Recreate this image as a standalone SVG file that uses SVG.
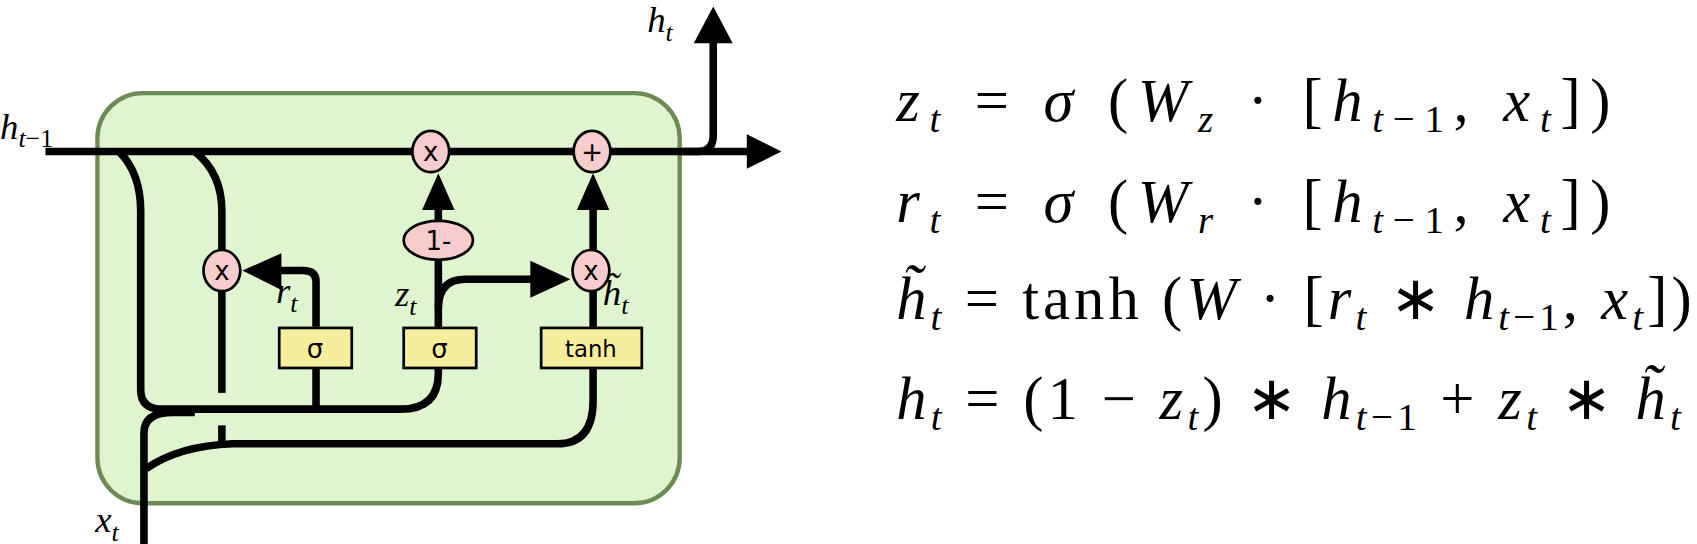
<svg xmlns="http://www.w3.org/2000/svg" width="1697" height="544" viewBox="0 0 1697 544">
<style>
.w{fill:none;stroke:#000;stroke-width:7;stroke-linejoin:round}
.op{fill:#f6cccc;stroke:#000;stroke-width:2.5}
.g{fill:#f5ee9c;stroke:#000;stroke-width:2.5}
.ot{font-family:"DejaVu Sans",sans-serif;font-size:24px;text-anchor:middle}
.m{font-family:"Liberation Serif",serif;font-style:italic;font-size:34px}
.eq{font-family:"Liberation Serif",serif;font-size:56px}
.i{font-style:italic}
.s{font-size:36px}
</style>
<rect x="0" y="0" width="1697" height="544" fill="#fff"/>
<g transform="scale(1.0823)">
<rect id="cell" x="90" y="86" width="538" height="379" rx="42" fill="#dff5cf" stroke="#6b8a54" stroke-width="4"/>
<g id="connectors">
<path class="w" d="M42 140H692"/>
<polygon points="722,140 690,124 690,156"/>
<path class="w" d="M630 140H645Q659 140 659 125V38"/>
<polygon points="659,6 641,40 677,40"/>
<path class="w" d="M110 140Q130 160 130 195V360Q130 378 150 378H370Q405 378 405 345V340"/>
<path class="w" d="M292 340V376"/>
<path class="w" d="M180 140Q205 160 205 195V232"/>
<path class="w" d="M205 268V363"/>
<path class="w" d="M205 393V410"/>
<path class="w" d="M135 433Q165 412 215 410H515Q548 410 548 370V340"/>
<path class="w" d="M133 503V400Q133 381 160 381H180"/>
<path class="w" d="M292 302V260Q292 250 280 250H256"/>
<polygon points="224,250 260,234 260,268"/>
<path class="w" d="M405 302V240"/>
<path class="w" d="M405 285Q405 258 430 258H492"/>
<polygon points="527,258 490,241 490,275"/>
<path class="w" d="M405 204V192"/>
<polygon points="405,160 390,194 420,194"/>
<path class="w" d="M548 302V192"/>
<polygon points="548,160 533,194 563,194"/>
</g>
<g id="mul1"><ellipse class="op" cx="398" cy="140" rx="17" ry="19"/><text class="ot" x="398" y="149">x</text></g>
<g id="add"><ellipse class="op" cx="547" cy="140" rx="17" ry="19"/><text class="ot" x="547" y="149">+</text></g>
<g id="mulr"><ellipse class="op" cx="205" cy="250" rx="17" ry="19"/><text class="ot" x="205" y="259">x</text></g>
<g id="mulh"><ellipse class="op" cx="546" cy="250" rx="17" ry="19"/><text class="ot" x="546" y="259">x</text></g>
<g id="oneminus"><ellipse class="op" cx="405" cy="222" rx="32" ry="18"/><text class="ot" x="405" y="231">1-</text></g>
<g id="sig1"><rect class="g" x="258" y="303" width="67" height="37"/><text class="ot" x="291" y="331">σ</text></g>
<g id="sig2"><rect class="g" x="373" y="303" width="67" height="37"/><text class="ot" x="406" y="331">σ</text></g>
<g id="tanh"><rect class="g" x="500" y="303" width="93" height="37"/><text class="ot" x="546" y="330" style="font-size:21px">tanh</text></g>
<g id="labels">
<text class="m" x="0" y="128">h<tspan font-size="24" dy="8" font-style="normal"><tspan font-style="italic">t</tspan>−1</tspan></text>
<text class="m" x="598" y="30">h<tspan font-size="24" dy="8">t</tspan></text>
<text class="m" x="88" y="492">x<tspan font-size="24" dy="8">t</tspan></text>
<text class="m" x="255" y="280">r<tspan font-size="24" dy="8">t</tspan></text>
<text class="m" x="365" y="283">z<tspan font-size="24" dy="8">t</tspan></text>
<text class="m" x="557" y="282">h̃<tspan font-size="24" dy="8">t</tspan></text>
</g>
<g id="equations">
<text class="eq" x="828" y="112" textLength="660" lengthAdjust="spacing"><tspan class="i">z</tspan><tspan class="s i" dy="10">t</tspan><tspan dy="-10"> = </tspan><tspan class="i">σ</tspan> (<tspan class="i">W</tspan><tspan class="s i" dy="10">z</tspan><tspan dy="-10"> · [</tspan><tspan class="i">h</tspan><tspan class="s" dy="10"><tspan class="i">t</tspan>−1</tspan><tspan dy="-10">, </tspan><tspan class="i">x</tspan><tspan class="s i" dy="10">t</tspan><tspan dy="-10">])</tspan></text>
<text class="eq" x="828" y="205" textLength="660" lengthAdjust="spacing"><tspan class="i">r</tspan><tspan class="s i" dy="10">t</tspan><tspan dy="-10"> = </tspan><tspan class="i">σ</tspan> (<tspan class="i">W</tspan><tspan class="s i" dy="10">r</tspan><tspan dy="-10"> · [</tspan><tspan class="i">h</tspan><tspan class="s" dy="10"><tspan class="i">t</tspan>−1</tspan><tspan dy="-10">, </tspan><tspan class="i">x</tspan><tspan class="s i" dy="10">t</tspan><tspan dy="-10">])</tspan></text>
<text class="eq" x="828" y="295" textLength="735" lengthAdjust="spacing"><tspan class="i">h̃</tspan><tspan class="s i" dy="10">t</tspan><tspan dy="-10"> = tanh (</tspan><tspan class="i">W</tspan> · [<tspan class="i">r</tspan><tspan class="s i" dy="10">t</tspan><tspan dy="-10"> ∗ </tspan><tspan class="i">h</tspan><tspan class="s" dy="10"><tspan class="i">t</tspan>−1</tspan><tspan dy="-10">, </tspan><tspan class="i">x</tspan><tspan class="s i" dy="10">t</tspan><tspan dy="-10">])</tspan></text>
<text class="eq" x="828" y="387" textLength="725" lengthAdjust="spacing"><tspan class="i">h</tspan><tspan class="s i" dy="10">t</tspan><tspan dy="-10"> = (1 − </tspan><tspan class="i">z</tspan><tspan class="s i" dy="10">t</tspan><tspan dy="-10">) ∗ </tspan><tspan class="i">h</tspan><tspan class="s" dy="10"><tspan class="i">t</tspan>−1</tspan><tspan dy="-10"> + </tspan><tspan class="i">z</tspan><tspan class="s i" dy="10">t</tspan><tspan dy="-10"> ∗ </tspan><tspan class="i">h̃</tspan><tspan class="s i" dy="10">t</tspan></text>
</g>
</g>
</svg>
